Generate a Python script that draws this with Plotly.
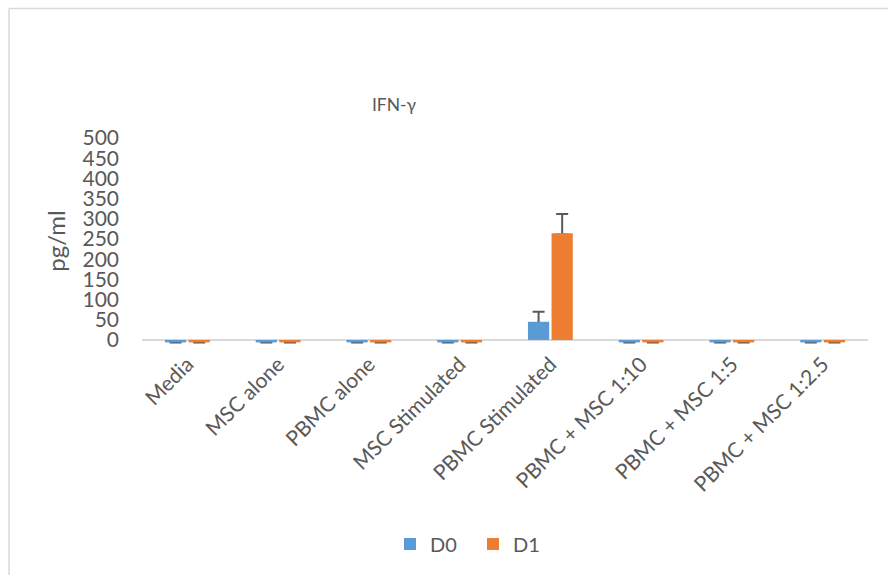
import plotly.graph_objects as go

categories = ["Media", "MSC alone", "PBMC alone", "MSC Stimulated", "PBMC Stimulated",
              "PBMC + MSC 1:10", "PBMC + MSC 1:5", "PBMC + MSC 1:2.5"]
d0_values = [-6, -6, -6, -6, 45, -6, -6, -6]
d1_values = [-6, -6, -6, -6, 264, -6, -6, -6]
d0_err = [None, None, None, None, 25, None, None, None]
d1_err = [None, None, None, None, 48, None, None, None]
y_ticks = [0, 50, 100, 150, 200, 250, 300, 350, 400, 450, 500]

BLUE = "#5B9BD5"
ORANGE = "#ED7D31"
TEXT = "#595959"
FONT = "Lato, 'Open Sans', sans-serif"

def inner(err):
    return [3 if e is not None else None for e in err]

fig = go.Figure()
# helper traces carrying upward-only error bars (drawn beneath the visible bars)
for name, vals, err, grp in [("D0", d0_values, d0_err, "a"), ("D1", d1_values, d1_err, "b")]:
    fig.add_trace(go.Bar(
        x=categories, y=vals, offsetgroup=grp, showlegend=False, hoverinfo="skip",
        marker=dict(color="rgba(0,0,0,0)", line=dict(width=0)),
        error_y=dict(type="data", symmetric=False, array=err, arrayminus=inner(err),
                     color=TEXT, thickness=2, width=6),
    ))
fig.add_trace(go.Bar(x=categories, y=d0_values, name="D0", offsetgroup="a",
                     marker=dict(color=BLUE, line=dict(width=0))))
fig.add_trace(go.Bar(x=categories, y=d1_values, name="D1", offsetgroup="b",
                     marker=dict(color=ORANGE, line=dict(width=0))))

# plot area: x 142..868, y 138..344 (px)
L, R, T, B = 142, 868, 138, 344
W, H = 888, 575
px = lambda x: (x - L) / (R - L)
py = lambda y: (B - y) / (B - T)

fig.update_layout(
    width=W, height=H,
    margin=dict(l=L, r=W - R, t=T, b=H - B, pad=0),
    paper_bgcolor="white", plot_bgcolor="white",
    barmode="group", bargap=0.48, bargroupgap=0.1,
    font=dict(family=FONT, color=TEXT, size=20),
    title=dict(text="IFN-γ", x=394 / W, xref="container", xanchor="center",
               y=1 - 105 / H, yref="container", yanchor="middle",
               font=dict(size=17.5, color=TEXT, family=FONT)),
    xaxis=dict(showgrid=False, showline=False, ticks="", tickangle=-45,
               tickfont=dict(size=21, color=TEXT, family=FONT), ticklabelstandoff=3),
    yaxis=dict(range=[-10, 500], tickvals=y_ticks, showgrid=False, showline=False,
               zeroline=True, zerolinecolor="#D9D9D9", zerolinewidth=2,
               ticks="", ticklabelstandoff=22,
               tickfont=dict(size=21, color=TEXT, family=FONT),
               title=dict(text="pg/ml", standoff=10, font=dict(size=24, color=TEXT, family=FONT))),
    legend=dict(orientation="h", x=px(390), xanchor="left", y=py(544), yanchor="middle",
                font=dict(size=20, color=TEXT, family=FONT), entrywidth=38, entrywidthmode="pixels",
                bgcolor="rgba(0,0,0,0)"),
    shapes=[
        dict(type="line", xref="paper", yref="paper", x0=px(9), x1=px(900), y0=py(8.5), y1=py(8.5),
             line=dict(color="#D9D9D9", width=1.5)),
        dict(type="line", xref="paper", yref="paper", x0=px(9), x1=px(9), y0=py(8.5), y1=py(600),
             line=dict(color="#D9D9D9", width=1.5)),
    ],
)

fig.write_html("out.html", config={"displayModeBar": False},
               post_script="document.body.style.margin='0';document.body.style.padding='0';")
